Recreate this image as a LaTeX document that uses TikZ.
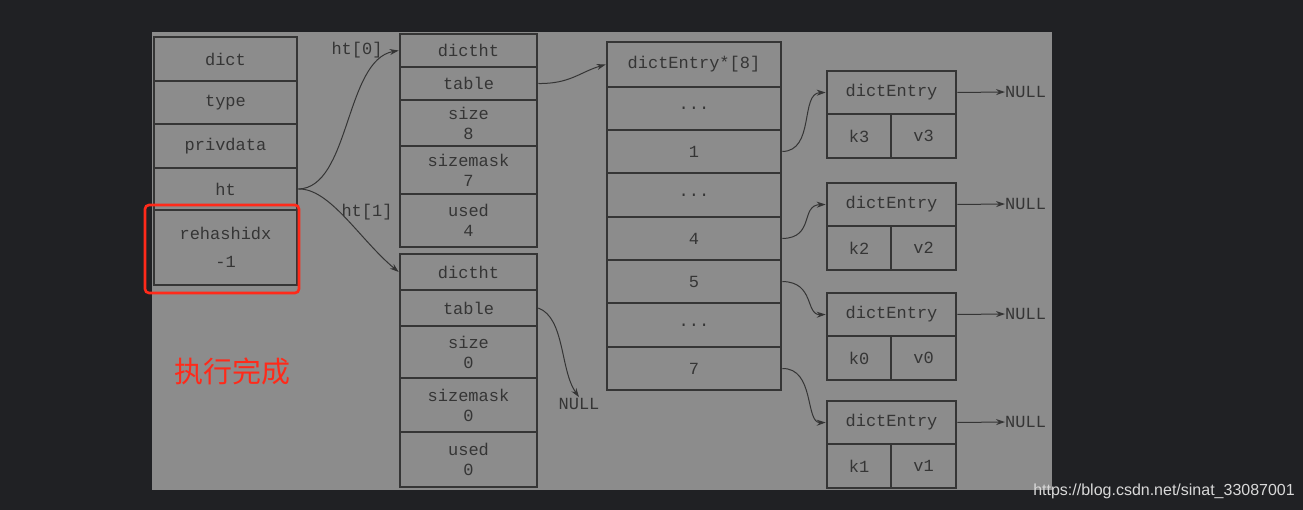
\documentclass[tikz,border=0pt]{standalone}
\usetikzlibrary{arrows.meta}
\usepackage{fontspec}
\setmainfont{Liberation Mono}
\newfontfamily\cjk{Noto Sans CJK SC}
\newfontfamily\wm{Liberation Sans}
\definecolor{bgd}{HTML}{202124}
\definecolor{panel}{HTML}{8C8C8C}
\definecolor{ink}{HTML}{353535}
\definecolor{redb}{HTML}{FF2A1A}
\newcommand{\cellbox}[6]{\node[cell,minimum width={(#4-#2)*1pt},minimum height={(#5-#3)*1pt}] (#1) at ({(#2+#4)/2},{(#3+#5)/2}) {#6};}
\begin{document}
\begin{tikzpicture}[x=1pt,y=-1pt,
  cell/.style={draw=ink,line width=2.6pt,inner sep=0pt,text=ink,font=\fontsize{17}{20}\selectfont,align=center},
  lbl/.style={text=ink,font=\fontsize{17}{20}\selectfont,inner sep=1pt},
  arr/.style={draw=ink,line width=1pt,-{Stealth[length=9pt,width=6pt]}}]
\fill[bgd] (0,0) rectangle (1303,510);
\useasboundingbox (0,0) rectangle (1303,510);
\fill[panel] (152,32) rectangle (1052,490);
% dict
\cellbox{d0}{154}{37}{297}{81}{dict}
\cellbox{d1}{154}{81}{297}{124}{type}
\cellbox{d2}{154}{124}{297}{168}{privdata}
\cellbox{d3}{154}{168}{297}{210}{ht}
\cellbox{d4}{154}{210}{297}{285}{rehashidx\\[8pt]-1}
\node[draw=redb,line width=2.6pt,rounded corners=4pt,minimum width=154pt,minimum height=88pt,inner sep=0pt] (red) at (222,249) {};
% ht0
\cellbox{a0}{400}{34}{537}{67}{dictht}
\cellbox{a1}{400}{67}{537}{100}{table}
\cellbox{a2}{400}{100}{537}{146}{size\\8}
\cellbox{a3}{400}{146}{537}{194}{sizemask\\7}
\cellbox{a4}{400}{194}{537}{247}{used\\4}
% ht1
\cellbox{b0}{400}{254}{537}{290}{dictht}
\cellbox{b1}{400}{290}{537}{326}{table}
\cellbox{b2}{400}{326}{537}{378}{size\\0}
\cellbox{b3}{400}{378}{537}{432}{sizemask\\0}
\cellbox{b4}{400}{432}{537}{487}{used\\0}
% array
\cellbox{t0}{607}{42}{781}{87}{dictEntry*[8]}
\cellbox{t1}{607}{87}{781}{130}{...}
\cellbox{t2}{607}{130}{781}{173}{1}
\cellbox{t3}{607}{173}{781}{217}{...}
\cellbox{t4}{607}{217}{781}{260}{4}
\cellbox{t5}{607}{260}{781}{303}{5}
\cellbox{t6}{607}{303}{781}{347}{...}
\cellbox{t7}{607}{347}{781}{390}{7}
% entries
\foreach \n/\y/\k in {1/71/3,2/183/2,3/293/0,4/401/1}{
  \pgfmathsetmacro{\ya}{\y+43}\pgfmathsetmacro{\yb}{\y+87}
  \cellbox{e\n}{827}{\y}{956}{\ya}{dictEntry}
  \cellbox{k\n}{827}{\ya}{891}{\yb}{k\k}
  \cellbox{v\n}{891}{\ya}{956}{\yb}{v\k}
  \node[lbl,anchor=west,inner sep=0pt] (n\n) at (1005,{\y+21}) {NULL};
  \draw[arr] (e\n.east) -- (n\n.west);
}
% labels
\node[lbl] (l0) at (357,50) {ht[0]};
\node[lbl] (l1) at (367,212) {ht[1]};
\node[lbl] (nl) at (579,404) {NULL};
% arrows
\draw[arr] (d3.east) .. controls (350,188) and (345,60) .. (a0.west);
\draw[arr] (d3.east) .. controls (330,188) and (360,240) .. (b0.west);
\draw[arr] (a1.east) .. controls (570,84) and (580,72) .. (t0.west);
\draw[arr] (b1.east) .. controls (565,318) and (560,370) .. (nl.north);
\draw[arr] (t2.east) .. controls (815,151) and (800,93) .. (e1.west);
\draw[arr] (t4.east) .. controls (815,238) and (800,205) .. (e2.west);
\draw[arr] (t5.east) .. controls (815,282) and (805,315) .. (e3.west);
\draw[arr] (t7.east) .. controls (815,368) and (805,423) .. (e4.west);
\node[text=redb,font=\cjk\fontsize{29}{32}\selectfont,inner sep=0pt] (cn) at (232,371) {执行完成};
\node[text=white!85!black,font=\wm\fontsize{16}{18}\selectfont,inner sep=0pt,anchor=east] (w) at (1295,491) {https://blog.csdn.net/sinat\_33087001};
\end{tikzpicture}
\end{document}
